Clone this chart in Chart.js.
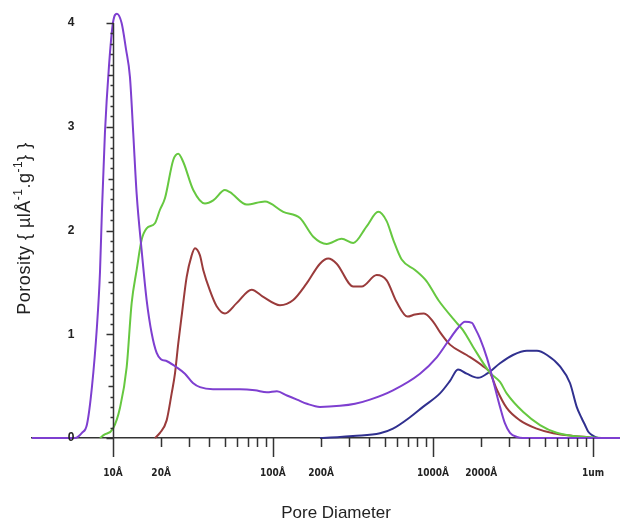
<!DOCTYPE html>
<html>
<head>
<meta charset="utf-8">
<script src="https://cdn.jsdelivr.net/npm/chart.js@4.4.0/dist/chart.umd.min.js"></script>
<style>
  html, body { margin: 0; padding: 0; background: #fff; }
  canvas { display: block; }
</style>
</head>
<body>
<canvas id="pore-chart" width="620" height="522"></canvas>
<script>
// pore size distributions: diameter in Å, porosity in µl/Å/g
const purpleD = [3.12, 5.79, 6.40, 6.88, 7.39, 7.94, 8.30, 8.54, 8.91, 9.44, 10.0, 10.59, 11.33, 12.06, 12.77, 13.39, 14.07, 15.11, 16.24, 17.46, 18.76, 19.95, 21.76, 25.12, 28.18, 31.62, 34.98, 42.17, 62.2, 77.2, 91.7, 105.9, 122.3, 141.3, 163.1, 196.7, 262.3, 325.6, 403.9, 562.3, 829.6, 1059, 1241, 1433, 1585, 1753, 1830, 1967, 2176, 2371, 2624, 2818, 3029, 3350, 3652, 14750];
const purpleV = [0, 0, 0.05, 0.13, 0.49, 1.07, 1.6, 2.2, 2.94, 3.58, 4.0, 4.09, 4.0, 3.75, 3.48, 2.94, 2.35, 1.81, 1.33, 1.01, 0.82, 0.76, 0.74, 0.68, 0.62, 0.53, 0.49, 0.47, 0.47, 0.46, 0.44, 0.45, 0.41, 0.37, 0.33, 0.30, 0.31, 0.33, 0.37, 0.46, 0.62, 0.78, 0.93, 1.06, 1.12, 1.11, 1.06, 0.96, 0.77, 0.56, 0.30, 0.14, 0.05, 0.01, 0, 0];

const greenD = [8.30, 8.79, 10.0, 11.06, 12.18, 13.09, 14.07, 15.11, 16.24, 18.30, 19.67, 21.13, 23.82, 25.59, 27.51, 31.76, 37.58, 42.36, 50.12, 53.85, 68.5, 89.1, 116.0, 147.5, 178.6, 216.6, 268.8, 317.6, 385.1, 455.0, 513.5, 564.8, 637.5, 772.0, 913.3, 1079, 1407, 1540, 1778, 2271, 2624, 2888, 3667, 4666, 5932, 7499, 9578, 11550];
const greenV = [0, 0.03, 0.09, 0.29, 0.68, 1.3, 1.62, 1.91, 2.02, 2.07, 2.2, 2.31, 2.68, 2.74, 2.66, 2.39, 2.26, 2.29, 2.39, 2.37, 2.25, 2.28, 2.18, 2.12, 1.94, 1.87, 1.92, 1.88, 2.04, 2.18, 2.09, 1.91, 1.72, 1.62, 1.51, 1.33, 1.11, 1.04, 0.88, 0.63, 0.54, 0.43, 0.25, 0.125, 0.05, 0.02, 0.007, 0];

const brownD = [18.30, 19.67, 21.66, 23.28, 24.41, 25.59, 27.0, 28.88, 31.04, 32.55, 34.98, 36.67, 40.4, 44.48, 50.12, 59.3, 73.6, 87.0, 110.6, 133.9, 162.4, 196.7, 221.6, 250.1, 317.6, 358.4, 444.8, 513.5, 593.1, 692.9, 772.0, 878.7, 1004, 1106, 1277, 1624, 2062, 2271, 2501, 2888, 3499, 4448, 5648, 7532, 9133, 10040];
const brownV = [0, 0.05, 0.17, 0.43, 0.62, 0.91, 1.2, 1.55, 1.76, 1.83, 1.76, 1.62, 1.42, 1.27, 1.20, 1.30, 1.43, 1.36, 1.28, 1.33, 1.49, 1.68, 1.73, 1.68, 1.46, 1.46, 1.57, 1.52, 1.31, 1.17, 1.19, 1.20, 1.12, 1.02, 0.90, 0.80, 0.69, 0.63, 0.47, 0.29, 0.17, 0.09, 0.045, 0.02, 0.01, 0];

const blueD = [196.7, 262.3, 316.2, 466.6, 562.3, 718.4, 866.0, 1106, 1277, 1433, 1624, 1911, 2176, 2624, 3162, 3868, 4467, 5158, 6220, 7181, 7911, 8500, 8913, 9346, 10040, 10746];
const blueV = [0, 0.01, 0.02, 0.045, 0.09, 0.2, 0.30, 0.43, 0.55, 0.66, 0.62, 0.58, 0.62, 0.72, 0.80, 0.84, 0.84, 0.80, 0.69, 0.53, 0.30, 0.19, 0.125, 0.06, 0.02, 0];

// x axis ticks (Å) and which of them carry a label
const xTickValues = [10, 20, 30, 40, 50, 60, 70, 80, 90, 100, 200, 300, 400, 500, 600, 700, 800, 900, 1000, 2000, 3000, 4000, 5000, 6000, 7000, 8000, 9000, 10000];
const xMajorTicks = [10, 100, 1000, 10000];
const xLabelValues = [10, 20, 100, 200, 1000, 2000, 10000];
const xLabelTexts = ['10Å', '20Å', '100Å', '200Å', '1000Å', '2000Å', '1um'];
// y axis sits on the 10Å line
const yAxisAt = 10;
const yLabelValues = [0, 1, 2, 3, 4];
// y title pieces, superscripts flagged
const yTitleParts = [['Porosity { µlÅ', false], ['-1', true], ['.g', false], ['-1', true], ['} }', false]];
const xTitle = 'Pore Diameter';

const toPoints = (d, v) => d.map((x, i) => ({ x, y: v[i] }));

function series(label, d, v, color) {
  return {
    label,
    data: toPoints(d, v),
    borderColor: color,
    borderWidth: 2,
    pointRadius: 0,
    cubicInterpolationMode: 'monotone',
    fill: false,
    clip: false
  };
}

const MAIN_FONT = '18px "Liberation Sans", Arial, sans-serif';
const SUP_FONT = '12px "Liberation Sans", Arial, sans-serif';

// y axis (line, ticks, labels, title), x tick marks and x title
const axisMarks = {
  id: 'axisMarks',
  afterDraw(chart) {
    const { ctx, chartArea, scales: { x, y } } = chart;
    const x0 = Math.round(x.getPixelForValue(yAxisAt)) + 0.5;
    ctx.save();
    ctx.strokeStyle = '#333';
    ctx.lineWidth = 1.5;
    ctx.beginPath();
    xTickValues.forEach(v => {
      const px = Math.round(x.getPixelForValue(v)) + 0.5;
      const len = xMajorTicks.includes(v) ? 19 : 9;
      ctx.moveTo(px, chartArea.bottom);
      ctx.lineTo(px, chartArea.bottom + len);
    });
    ctx.moveTo(x0, y.getPixelForValue(0));
    ctx.lineTo(x0, y.getPixelForValue(4));
    for (let i = 0; i <= 40; i++) {
      const py = Math.round(y.getPixelForValue(i / 10)) + 0.5;
      const len = i % 10 === 0 ? 7 : (i % 5 === 0 ? 5 : 3);
      ctx.moveTo(x0 - len, py);
      ctx.lineTo(x0, py);
    }
    ctx.stroke();

    ctx.fillStyle = '#222';
    ctx.font = 'bold 12px "Liberation Sans", Arial, sans-serif';
    ctx.textAlign = 'right';
    ctx.textBaseline = 'middle';
    yLabelValues.forEach(v => {
      ctx.fillText(String(v), x0 - 39, y.getPixelForValue(v));
    });

    // x title, a little right of the plot centre
    ctx.font = '17px "Liberation Sans", Arial, sans-serif';
    ctx.textAlign = 'center';
    ctx.fillText(xTitle, 336, 513);

    // rotated y title with raised exponents
    ctx.translate(25, (chartArea.top + chartArea.bottom) / 2 - 2);
    ctx.rotate(-Math.PI / 2);
    ctx.textAlign = 'left';
    ctx.textBaseline = 'middle';
    ctx.letterSpacing = '0.5px';
    let total = 0;
    yTitleParts.forEach(([t, sup]) => {
      ctx.font = sup ? SUP_FONT : MAIN_FONT;
      total += ctx.measureText(t).width;
    });
    let cx = -total / 2;
    yTitleParts.forEach(([t, sup]) => {
      ctx.font = sup ? SUP_FONT : MAIN_FONT;
      ctx.fillText(t, cx, sup ? -6 : 0);
      cx += ctx.measureText(t).width;
    });
    ctx.restore();
  }
};

new Chart(document.getElementById('pore-chart'), {
  type: 'line',
  data: {
    datasets: [
      series('Sample A', purpleD, purpleV, '#7e3fd0'),
      series('Sample B', greenD, greenV, '#66c840'),
      series('Sample C', brownD, brownV, '#9a3b3b'),
      series('Sample D', blueD, blueV, '#30308f')
    ]
  },
  options: {
    responsive: false,
    animation: false,
    devicePixelRatio: 1,
    layout: { padding: { left: 32, right: 0, top: 23, bottom: 22 } },
    plugins: {
      legend: { display: false },
      tooltip: { enabled: false }
    },
    scales: {
      x: {
        type: 'logarithmic',
        position: 'bottom',
        min: 3.12,
        max: 14750,
        afterBuildTicks: scale => {
          scale.ticks = xTickValues.map(value => ({ value }));
        },
        ticks: {
          autoSkip: false,
          maxRotation: 0,
          padding: 15,
          color: '#222',
          font: { family: '"DejaVu Sans Condensed", "Liberation Sans Narrow", "Liberation Sans", Arial, sans-serif', size: 10, weight: 'bold', lineHeight: '24px' },
          callback: value => {
            const i = xLabelValues.indexOf(value);
            return i >= 0 ? xLabelTexts[i] : '';
          }
        },
        grid: { display: false },
        border: { display: true, color: '#333', width: 1.5 },
        title: { display: false }
      },
      y: {
        type: 'linear',
        display: false,
        min: 0,
        max: 4
      }
    }
  },
  plugins: [axisMarks]
});
</script>
</body>
</html>
